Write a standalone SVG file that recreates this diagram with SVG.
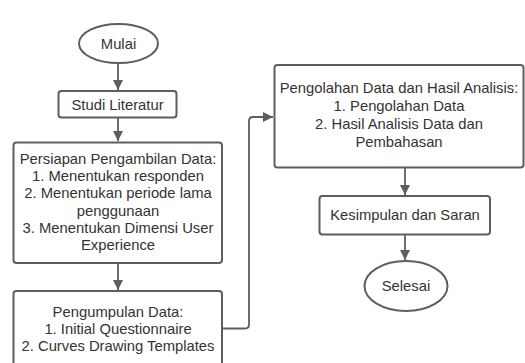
<svg xmlns="http://www.w3.org/2000/svg" width="525" height="363" viewBox="0 0 525 363">
<defs>
<marker id="ah" viewBox="0 0 10 10" refX="10" refY="5" markerWidth="10" markerHeight="10" markerUnits="userSpaceOnUse" orient="auto">
<path d="M0,0 L10,5 L0,10 Z" fill="#5e5e5e"/>
</marker>
<style>
.n{fill:#fff;stroke:#5e5e5e;stroke-width:2}
.t{font-family:"Liberation Sans",Arial,sans-serif;font-size:14.8px;fill:#333;text-anchor:middle}
.c{fill:none;stroke:#5e5e5e;stroke-width:1.8;marker-end:url(#ah)}
</style>
</defs>
<rect width="525" height="363" fill="#fff"/>
<g id="connectors">
<path class="c" d="M118,63.5 V90"/>
<path class="c" d="M118,117.5 V141"/>
<path class="c" d="M118,263 V290"/>
<path class="c" d="M222,328.5 H245 Q249,328.5 249,324.5 V121 Q249,117 253,117 H273"/>
<path class="c" d="M405,167.5 V195"/>
<path class="c" d="M405,235 V260"/>
</g>
<g id="mulai">
<ellipse class="n" cx="118.5" cy="43.5" rx="39.5" ry="19.5"/>
<text class="t" x="118.5" y="48.5">Mulai</text>
</g>
<g id="studi">
<rect class="n" x="58.5" y="91" width="118" height="26.5" rx="3"/>
<text class="t" x="117.5" y="109.5">Studi Literatur</text>
</g>
<g id="persiapan">
<rect class="n" x="13.5" y="142.5" width="208.5" height="120.5" rx="3"/>
<text class="t" x="118" y="163.5">Persiapan Pengambilan Data:</text>
<text class="t" x="118" y="181">1. Menentukan responden</text>
<text class="t" x="118" y="198.3">2. Menentukan periode lama</text>
<text class="t" x="118" y="215.6">penggunaan</text>
<text class="t" x="118" y="232.9">3. Menentukan Dimensi User</text>
<text class="t" x="118" y="250.2">Experience</text>
</g>
<g id="pengumpulan">
<rect class="n" x="13.5" y="291" width="208.5" height="80" rx="3"/>
<text class="t" x="118" y="316.5">Pengumpulan Data:</text>
<text class="t" x="118" y="333.5">1. Initial Questionnaire</text>
<text class="t" x="118" y="350.5">2. Curves Drawing Templates</text>
</g>
<g id="pengolahan">
<rect class="n" x="274.5" y="65" width="249" height="102.5" rx="3"/>
<text class="t" x="399" y="93.3">Pengolahan Data dan Hasil Analisis:</text>
<text class="t" x="399" y="111.3">1. Pengolahan Data</text>
<text class="t" x="399" y="129.3">2. Hasil Analisis Data dan</text>
<text class="t" x="399" y="147.3">Pembahasan</text>
</g>
<g id="kesimpulan">
<rect class="n" x="319.5" y="196" width="170.5" height="38.5" rx="3"/>
<text class="t" x="405" y="220">Kesimpulan dan Saran</text>
</g>
<g id="selesai">
<ellipse class="n" cx="406" cy="286" rx="41.5" ry="25"/>
<text class="t" x="406" y="290.5">Selesai</text>
</g>
</svg>
